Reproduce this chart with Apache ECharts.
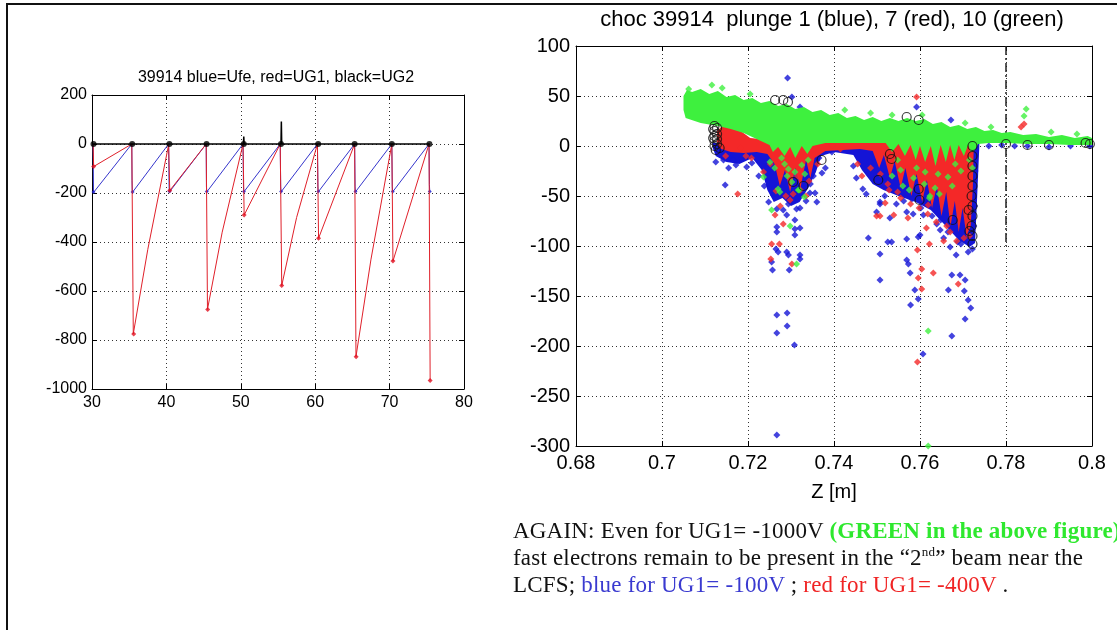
<!DOCTYPE html>
<html><head><meta charset="utf-8">
<script src="https://cdn.jsdelivr.net/npm/echarts/dist/echarts.min.js"></script>
<style>
html,body{margin:0;padding:0;background:#fff;width:1117px;height:630px;overflow:hidden;}
#chart{position:absolute;left:0;top:0;width:1117px;height:630px;}
#frame{position:absolute;left:6px;top:3px;width:1111px;height:627px;border-top:2px solid #111;border-left:2px solid #111;box-sizing:border-box;pointer-events:none}
#note{position:absolute;left:513px;top:517px;font-family:'Liberation Serif','Times New Roman',serif;font-size:23px;line-height:27px;white-space:nowrap;color:#111;letter-spacing:0.2px}
#note sup{font-size:13px;line-height:0;vertical-align:9px}
</style></head>
<body>
<div id="chart"></div>
<div id="frame"></div>
<div id="note">AGAIN: Even for UG1= -1000V <b style="color:#2ee82e">(GREEN in the above figure)</b><br>fast electrons remain to be present in the “2<sup>nd</sup>” beam near the<br>LCFS; <span style="color:#3a3ad0">blue for UG1= -100V</span> ; <span style="color:#f02424">red for UG1= -400V</span> .</div>
<script>
// ---------- LEFT CHART DATA (time, voltage) ----------
const leftTitle = '39914 blue=Ufe, red=UG1, black=UG2';
const leftXTicks = [30, 80, 10];
const leftYTicks = [-1000, 200, 200];
const ufeBlue = [[30.15,0],[30.2,-198],[35.35,0],[35.38,-150],[35.42,-198],[40.3,0],[40.36,-175],[40.4,-196],[45.35,0],[45.38,-172],[45.42,-196],[50.3,0],[50.36,-172],[50.4,-196],[55.3,0],[55.36,-172],[55.4,-196],[60.3,0],[60.36,-172],[60.4,-196],[65.3,0],[65.36,-172],[65.4,-196],[70.3,0],[70.36,-172],[70.4,-196],[75.3,0],[75.35,-165],[75.4,-196]];
const ug1Red = [[30.15,0],[30.22,-92],[35.35,0],[35.45,-2],[35.55,-775],[37.5,-430],[40.3,-3],[40.38,0],[40.45,-190],[45.35,0],[45.42,-3],[45.52,-675],[47.5,-360],[50.3,0],[50.38,-3],[50.45,-290],[55.3,0],[55.4,-3],[55.5,-578],[57.5,-300],[60.3,0],[60.38,-3],[60.45,-385],[65.3,0],[65.38,-3],[65.48,-868],[67.5,-470],[70.3,0],[70.38,-3],[70.45,-478],[75.3,0],[75.38,-3],[75.45,-965]];
const ug1RedTroughs = [[30.22,-92],[35.6,-775],[40.45,-190],[45.55,-675],[50.45,-290],[55.5,-578],[60.45,-385],[65.5,-868],[70.45,-478],[75.45,-965]];
const ufeBlueTroughs = [[30.2,-196],[35.45,-196],[40.42,-194],[45.42,-194],[50.42,-194],[55.42,-194],[60.42,-194],[65.42,-194],[70.42,-194],[75.4,-194]];
const ug2Black = [[30,0],[35.4,0],[40.4,0],[45.4,0],[50.35,0],[50.4,30],[50.45,0],[55.4,0],[55.45,92],[55.5,0],[60.4,0],[65.3,0],[70.3,0],[75.4,0]];
const ug2Dots = [[30.2,0],[35.4,0],[40.4,0],[45.4,0],[50.4,0],[55.4,0],[60.4,0],[65.3,0],[70.3,0],[75.35,0]];

// ---------- RIGHT CHART DATA (Z [m], signal) ----------
const rightTitle = 'choc 39914  plunge 1 (blue), 7 (red), 10 (green)';
const rightXTicks = [0.68, 0.8, 0.02];
const rightYTicks = [-300, 100, 50];
const separatrixLine = [0.78, 100, -100];
// dense cores (outline vertices)
const blueDense = [[0.7118,3],[0.7118,-2],[0.7125,-10],[0.715,-16],[0.718,-18],[0.721,-12],[0.7232,-24],[0.7245,-44],[0.726,-56],[0.728,-52],[0.73,-60],[0.732,-56],[0.734,-42],[0.7358,-26],[0.737,-10],[0.74,-6],[0.7445,-9],[0.7465,-24],[0.749,-38],[0.7515,-44],[0.755,-50],[0.759,-56],[0.7625,-64],[0.766,-80],[0.769,-94],[0.7715,-101],[0.7728,-97],[0.7733,-50],[0.7738,0],[0.7738,3],[0.76,3],[0.74,3],[0.72,3]];
const redDense = [[0.7128,15],[0.714,20],[0.716,20],[0.718,16],[0.7205,8],[0.73,4],[0.74,3],[0.75,3],[0.76,3],[0.7722,3],[0.7725,0],[0.7723,-40],[0.7718,-80],[0.7708,-90],[0.7699,-62],[0.769,-86],[0.7681,-55],[0.7671,-80],[0.7661,-46],[0.765,-70],[0.7639,-40],[0.7628,-62],[0.7616,-34],[0.7605,-56],[0.7592,-28],[0.758,-50],[0.7566,-22],[0.7555,-42],[0.7541,-15],[0.753,-32],[0.7516,-9],[0.7505,-22],[0.749,-5],[0.746,-3],[0.738,-5],[0.7355,-12],[0.7345,-32],[0.7335,-14],[0.7322,-42],[0.731,-22],[0.7298,-46],[0.7286,-24],[0.7274,-40],[0.7262,-18],[0.7245,-8],[0.722,-6],[0.719,-7],[0.716,-6],[0.7138,-3],[0.7128,2]];
const greenDense = [[0.7050,36],[0.7050,50],[0.7058,56],[0.707,54],[0.709,57],[0.711,52],[0.713,55],[0.715,49],[0.717,51],[0.719,46],[0.721,48],[0.723,43],[0.725,45],[0.727,40],[0.729,42],[0.731,37],[0.733,39],[0.735,34],[0.737,36],[0.739,31],[0.741,33],[0.743,28],[0.745,30],[0.747,26],[0.749,29],[0.751,25],[0.753,28],[0.755,25],[0.757,28],[0.759,25],[0.761,27],[0.763,22],[0.765,24],[0.767,19],[0.769,21],[0.771,17],[0.773,19],[0.775,15],[0.777,16],[0.779,13],[0.781,14],[0.784,11],[0.787,12],[0.79,9],[0.793,11],[0.796,8],[0.799,10],[0.8,8],[0.8,1],[0.795,1],[0.79,2],[0.785,2],[0.78,3],[0.776,3],[0.7735,2],[0.7728,-4],[0.7718,-6],[0.7712,1],[0.7702,-10],[0.769,1],[0.768,-14],[0.767,1],[0.766,-16],[0.7648,1],[0.7636,-20],[0.7625,0],[0.7612,-16],[0.76,0],[0.759,-14],[0.7578,1],[0.7565,-10],[0.755,2],[0.7535,-6],[0.752,3],[0.746,3],[0.742,3],[0.738,3],[0.735,0],[0.7338,-8],[0.7325,0],[0.731,-12],[0.7298,-1],[0.7285,-10],[0.727,-1],[0.7258,-6],[0.725,1],[0.722,7],[0.719,13],[0.716,17],[0.713,20],[0.709,23],[0.7055,28]];
// individual points
const bluePts = [[0.7259,-49],[0.7267,-63],[0.7294,-58],[0.7313,-63],[0.7321,-62],[0.736,-56],[0.7356,-47],[0.7344,-47],[0.729,-69],[0.7267,-81],[0.7267,-86],[0.7309,-74],[0.7309,-83],[0.7321,-82],[0.7309,-89],[0.7265,-103],[0.727,-106],[0.729,-106],[0.7294,-109],[0.7321,-109],[0.7321,-113],[0.7255,-116],[0.7257,-124],[0.7296,-124],[0.7267,-169],[0.7291,-167],[0.7291,-180],[0.7267,-187],[0.7308,-199],[0.7267,-289],
[0.7507,-58],[0.7499,-66],[0.753,-72],[0.748,-92],[0.7507,-108],[0.7534,-96],[0.7525,-96],[0.7569,-93],[0.7507,-134],[0.7569,-114],[0.7573,-118],[0.7577,-127],[0.7596,-91],[0.76,-89],[0.7584,-68],[0.7569,-66],[0.7608,-69],[0.7596,-49],[0.7581,-53],[0.7588,-144],[0.7596,-153],[0.7578,-159],[0.7639,-78],[0.7647,-84],[0.767,-101],[0.7684,-109],[0.7674,-129],[0.7693,-129],[0.7705,-134],[0.7666,-144],[0.7703,-145],[0.7712,-154],[0.7718,-162],[0.7705,-173],[0.7674,-190],[0.7607,-208],[0.7655,-92],[0.7688,-96],[0.7712,-106],[0.7722,-103],
[0.7292,68],[0.7302,49],[0.7321,39],[0.7592,39],[0.7672,26],[0.7143,-14],[0.7166,-14],[0.7147,-39],[0.7185,-12],[0.7197,-21],[0.7209,-17],[0.7172,-19],[0.7155,-22],[0.7125,-16],[0.7225,-30],[0.7238,-40],[0.7248,-56],[0.7282,-64],[0.7335,-55],[0.7345,-38],[0.7352,-30],
[0.735,-2],[0.7365,-12],[0.738,-22],[0.7372,-27],[0.7395,-6],[0.746,1],[0.7484,-16],[0.7499,-29],[0.7467,-43],[0.7507,-56],[0.753,-39],[0.7445,-20],[0.7452,-32],[0.7475,-48],[0.7518,-50],[0.7545,-58],[0.7562,-55],[0.7602,-62],[0.7628,-70],[0.7648,-74],[0.7665,-86],[0.7695,-98],[0.7725,-80],[0.7727,-60],[0.7728,-25],
[0.776,0],[0.779,1],[0.782,0],[0.785,0],[0.79,-1],[0.795,0],[0.7995,0],[0.7455,9],[0.7555,12],[0.7628,9],[0.742,-3],[0.7505,-4],[0.7578,-8]];
const redPts = [[0.7176,-48],[0.7255,-98],[0.7273,-98],[0.7253,-113],[0.7302,-118],[0.7263,-69],[0.7282,-78],[0.7298,-54],[0.7499,-70],[0.7507,-70],[0.7519,-57],[0.7619,-59],[0.7594,-104],[0.7604,-123],[0.7596,-132],[0.7604,-143],[0.7631,-127],[0.7622,-98],[0.7689,-138],[0.767,-86],[0.7594,-216],[0.7539,-69],[0.7592,49],[0.7835,19],[0.7842,22],[0.7236,-26],[0.7315,-30],[0.7335,-50],[0.7275,-60],[0.7455,-18],[0.7485,-22],[0.7525,-38],[0.7555,-52],[0.7572,-72],[0.7615,-82],[0.7655,-95],[0.7685,-95],[0.7415,-3],[0.7395,1],[0.745,2],[0.7465,-30],[0.7182,-2],
[0.7265,-45],[0.7288,-50],[0.7305,-48],[0.7322,-44],[0.7342,-35],[0.7362,-18],[0.7252,-18],[0.7508,-28],[0.7528,-44],[0.7548,-46],[0.7578,-58],[0.7598,-62],[0.7618,-68],[0.7638,-76],[0.7662,-80],[0.7702,-92],[0.7715,-90],[0.7208,-12],[0.7195,-10],[0.7148,-10]];
const greenPts = [[0.7236,-31],[0.7251,-16],[0.7278,-12],[0.7294,-23],[0.7309,-26],[0.7325,-19],[0.734,-14],[0.7302,-36],[0.727,-43],[0.7317,-44],[0.7291,-30],[0.7255,-64],[0.7298,-80],[0.7313,-118],[0.7274,-46],[0.7331,-51],[0.7619,-185],[0.7623,-50],[0.7619,-300],[0.7319,-44],[0.7555,-24],[0.7585,-32],[0.761,-38],[0.7635,-42],[0.7665,-31],[0.7695,-25],[0.7715,-14],[0.7622,-52],[0.756,-40],[0.7535,-30],[0.7645,-48],[0.7575,-44],[0.7116,61],[0.714,58],[0.7847,37],[0.7842,30],[0.7062,57],[0.7205,52],[0.7425,36],[0.7485,33],[0.7535,31],[0.7605,31],[0.7705,23],[0.7765,19],[0.7905,14],[0.7965,12],
[0.7262,-22],[0.7285,-18],[0.7332,-28],[0.7592,-22],[0.7642,-28],[0.7682,-18],[0.7612,-26],[0.7548,-14],[0.7722,-22],[0.7675,-40]];
const blackRings = [[0.7263,46],[0.7282,46],[0.7293,44],[0.7569,29],[0.7597,26],[0.7305,-36],[0.7329,-40],[0.7371,-14],[0.7503,-34],[0.753,-8],[0.7534,-13],[0.7597,-43],[0.7599,-54],[0.7676,-74],[0.7713,-64],
[0.7122,20],[0.7122,15],[0.7122,10],[0.7122,5],[0.7122,0],[0.7128,18],[0.7128,12],[0.7128,7],[0.7128,2],[0.7134,-2],[0.7119,17],[0.7119,8],[0.7125,-4],
[0.7722,0],[0.7722,-10],[0.7722,-20],[0.7722,-30],[0.7722,-40],[0.772,-50],[0.7722,-60],[0.7722,-70],[0.772,-80],[0.7722,-90],[0.7722,-98],[0.7715,-85],
[0.7985,3],[0.7995,2],[0.79,1],[0.785,1],[0.78,2]];

const FONT = "'Liberation Sans', Arial, sans-serif";
const chart = echarts.init(document.getElementById('chart'), null, {renderer:'canvas'});

function polySeries(pts, color, z) {
  return {
    type:'custom', xAxisIndex:2, yAxisIndex:2, data:pts, z:z, silent:true, clip:true,
    renderItem:function(params, api){
      if (params.dataIndex !== 0) return null;
      const coords = pts.map(p => api.coord(p));
      return {type:'polygon', shape:{points:coords}, style:{fill:color}};
    }
  };
}
const gridLine = {show:true, lineStyle:{color:'#333', type:[1,3], width:1}};
function axisBase(grid, t, pos, extra){ return Object.assign({type:'value', gridIndex:grid, min:t[0], max:t[1], interval:t[2], position:pos,
  axisLine:{show:true, onZero:false, lineStyle:{color:'#000', width:1}},
  axisTick:{show:true, inside:true, length:5, lineStyle:{color:'#000'}},
  splitLine:{show:false}, axisLabel:{show:false}}, extra || {}); }
const lbl = (size, margin, fmt) => ({show:true, color:'#000', fontSize:size, fontFamily:FONT, margin:margin, formatter:fmt});

const option = {
  animation:false,
  backgroundColor:'#fff',
  grid:[{left:92, top:95, width:372, height:294, show:false},
        {left:576, top:46, width:516, height:400, show:false}],
  graphic:[
    {type:'text', x:276, y:70, style:{text:leftTitle, font:"16px "+FONT, fill:'#000', textAlign:'center'}},
    {type:'text', x:832, y:9, style:{text:rightTitle, font:"22px "+FONT, fill:'#000', textAlign:'center'}}
  ],
  xAxis:[
    axisBase(0, leftXTicks, 'bottom', {splitLine:gridLine, axisLabel:lbl(16, 6, v=>String(v))}),
    axisBase(0, leftXTicks, 'top'),
    axisBase(1, rightXTicks, 'bottom', {splitLine:gridLine, axisLabel:lbl(20, 7, v=>String(+v.toFixed(2))),
      name:'Z [m]', nameLocation:'middle', nameGap:36, nameTextStyle:{color:'#000', fontSize:20, fontFamily:FONT}}),
    axisBase(1, rightXTicks, 'top')
  ],
  yAxis:[
    axisBase(0, leftYTicks, 'left', {splitLine:gridLine, axisLabel:lbl(16, 5, v=>String(v))}),
    axisBase(0, leftYTicks, 'right'),
    axisBase(1, rightYTicks, 'left', {splitLine:gridLine, axisLabel:lbl(20, 6, v=>String(v))}),
    axisBase(1, rightYTicks, 'right')
  ],
  series:[
    // left chart
    {type:'line', xAxisIndex:0, yAxisIndex:0, data:ufeBlue, showSymbol:false, lineStyle:{color:'#3535cc', width:1}, z:3},
    {type:'scatter', xAxisIndex:0, yAxisIndex:0, data:ufeBlueTroughs, symbol:'diamond', symbolSize:4, itemStyle:{color:'#2020d0'}, z:3},
    {type:'line', xAxisIndex:0, yAxisIndex:0, data:ug1Red, showSymbol:false, lineStyle:{color:'#e0202a', width:1}, z:4},
    {type:'scatter', xAxisIndex:0, yAxisIndex:0, data:ug1RedTroughs, symbol:'diamond', symbolSize:5, itemStyle:{color:'#e01020'}, z:4},
    {type:'line', xAxisIndex:0, yAxisIndex:0, data:ug2Black, showSymbol:false, lineStyle:{color:'#000', width:1.5}, z:5},
    {type:'scatter', xAxisIndex:0, yAxisIndex:0, data:ug2Dots, symbol:'circle', symbolSize:6, itemStyle:{color:'#000'}, z:5},
    // right chart
    polySeries(blueDense, '#1414d6', 2),
    {type:'scatter', xAxisIndex:2, yAxisIndex:2, data:bluePts, symbol:'diamond', symbolSize:7, itemStyle:{color:'#1414d6'}, z:3,
      markLine:{silent:true, symbol:'none', label:{show:false}, lineStyle:{color:'#222', type:[9,3,2,3], width:1.5},
        data:[[{coord:[separatrixLine[0], separatrixLine[1]]},{coord:[separatrixLine[0], separatrixLine[2]]}]]}},
    polySeries(redDense, '#f42828', 4),
    {type:'scatter', xAxisIndex:2, yAxisIndex:2, data:redPts, symbol:'diamond', symbolSize:7, itemStyle:{color:'#f42828'}, z:5},
    polySeries(greenDense, '#3ef03e', 6),
    {type:'scatter', xAxisIndex:2, yAxisIndex:2, data:greenPts, symbol:'diamond', symbolSize:7, itemStyle:{color:'#3ef03e'}, z:7},
    {type:'scatter', xAxisIndex:2, yAxisIndex:2, data:blackRings, symbol:'circle', symbolSize:9,
      itemStyle:{color:'rgba(0,0,0,0)', borderColor:'#111', borderWidth:1.2}, z:8}
  ]
};
chart.setOption(option);
</script>
</body></html>
